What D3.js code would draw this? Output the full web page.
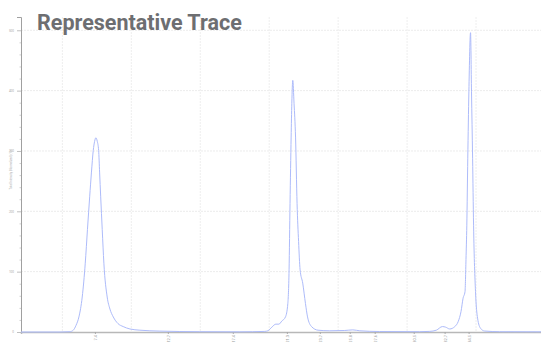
<!DOCTYPE html>
<html>
<head>
<meta charset="utf-8">
<script src="https://cdn.jsdelivr.net/npm/d3@7"></script>
<style>
    body { margin: 0; background: #fff; }
    svg { display: block; }
</style>
</head>
<body>
<div id="chart"></div>
<script>
// retention time (min) and normalized intensity
let times = [2, 4.83, 5.55, 5.79, 5.99, 6.2, 6.44, 6.66, 6.82, 6.98, 7.11, 7.24, 7.34, 7.43, 7.53, 7.63, 7.7, 7.78, 7.89, 8.01, 8.25, 8.45, 8.69, 9.03, 9.41, 9.9, 10.62, 12.07, 14.97, 17.87,
    19.68, 19.9, 20.19, 20.48, 20.7, 20.91, 21.18, 21.35, 21.44, 21.51, 21.59, 21.64, 21.71, 21.8, 21.91, 22.02, 22.13, 22.24, 22.43, 22.63, 22.78, 23.07, 23.54,
    24.39, 25.48, 26.06, 26.57, 28.01, 30.91, 31.64, 32.12, 32.56, 32.8, 33.09, 33.46, 33.7, 33.91, 34.06, 34.2, 34.27, 34.33, 34.4, 34.48, 34.6, 34.67, 34.75, 34.82, 34.96, 35.11, 35.33, 35.62, 36.71, 40];
let intensity = [0, 0, 0.5, 3, 11, 25, 58, 114, 170, 224, 265, 301, 316, 322, 316, 301, 265, 224, 170, 114, 58, 38, 25, 14, 9, 5, 3, 1.5, 0.5, 0.3,
    1, 2, 8, 13, 13, 18, 25, 47, 103, 213, 323, 379, 417, 379, 323, 213, 150, 103, 81, 47, 25, 9, 3,
    2, 2.5, 3.5, 2, 0.8, 0.5, 1, 3, 9, 8, 5, 9, 17, 34, 56, 67, 120, 177, 288, 398, 496, 398, 288, 177, 67, 23, 6, 1.6, 0.5, 0.3];
let peakTimes = [7.36, 12.65, 17.36, 21.28, 23.67, 25.84, 27.65, 30.48, 32.72, 34.46];
let yTicks = [0, 100, 200, 300, 400, 500];
let xGrid = [5, 10, 15, 20, 25, 30, 35];

let width = 541, height = 342;

let svg = d3.select("#chart")
    .append("svg")
    .attr("width", width)
    .attr("height", height);

var x = d3.scaleLinear().domain([2, 40]).range([21, 545]);
var y = d3.scaleLinear().domain([0, 522]).range([332, 17]);

// gridlines
svg.append("g")
    .selectAll("line")
    .data(yTicks.slice(1))
    .enter().append("line")
    .attr("x1", x(2)).attr("x2", width)
    .attr("y1", d => y(d)).attr("y2", d => y(d))
    .attr("stroke", "#ececec")
    .attr("stroke-dasharray", "2,1");
svg.append("g")
    .selectAll("line")
    .data(xGrid)
    .enter().append("line")
    .attr("x1", d => x(d)).attr("x2", d => x(d))
    .attr("y1", y(522)).attr("y2", y(0))
    .attr("stroke", "#eeeeee")
    .attr("stroke-dasharray", "2,1");

// y axis
var yAxis = svg.append("g")
    .attr("transform", "translate(" + x(2) + ",0)")
    .call(d3.axisLeft(y).tickValues(yTicks).tickSize(4).tickFormat(d3.format("d")));
yAxis.select(".domain").attr("stroke", "#a0a0a0");
yAxis.selectAll(".tick line").attr("stroke", "#c0c0c0");
yAxis.selectAll("text").attr("font-size", 3).attr("fill", "#aaa").attr("font-family", "Roboto");
svg.append("g")
    .attr("transform", "translate(" + x(2) + ",0)")
    .call(d3.axisLeft(y).tickValues(d3.range(20, 520, 20).filter(d => d % 100 != 0)).tickSize(1.5).tickFormat(""))
    .call(g => g.select(".domain").remove())
    .selectAll("line").attr("stroke", "#d0d0d0");

svg.append("text")
    .attr("transform", "translate(12,170) rotate(-90)")
    .attr("text-anchor", "middle")
    .attr("font-family", "Roboto")
    .attr("font-size", 2.8)
    .attr("fill", "#aaa")
    .text("Total Intensity (Normalized) (%)");

// x axis
var xAxis = svg.append("g")
    .attr("transform", "translate(0," + y(0) + ")")
    .call(d3.axisBottom(x).tickValues(peakTimes).tickSize(2).tickFormat(d3.format(".1f")));
xAxis.select(".domain").attr("stroke", "#b8b8b8").attr("stroke-width", 1.5);
xAxis.selectAll(".tick line").attr("stroke", "#aaa");
xAxis.selectAll("text")
    .attr("font-size", 4)
    .attr("font-family", "Roboto")
    .attr("fill", "#999")
    .attr("transform", "rotate(-90)")
    .attr("text-anchor", "end")
    .attr("x", -3).attr("y", 0).attr("dy", "0.35em");

// trace
let trace = times.map((t, i) => ({ t: t, v: intensity[i] }));
var line = d3.line()
    .x(d => x(d.t))
    .y(d => y(d.v))
    .curve(d3.curveMonotoneX);
svg.append("path")
    .datum(trace)
    .attr("d", line)
    .attr("fill", "none")
    .attr("stroke", "#adbbfa")
    .attr("stroke-width", 1);

// title
svg.append("text")
    .attr("x", 37)
    .attr("y", 30)
    .attr("font-family", "Roboto")
    .attr("font-weight", 700)
    .attr("font-size", 21.5)
    .attr("fill", "#6d6e71")
    .text("Representative Trace");
</script>
</body>
</html>
